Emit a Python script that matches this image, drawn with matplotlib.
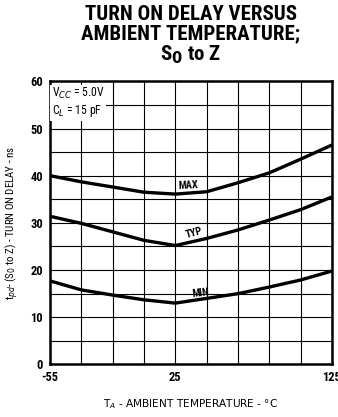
import matplotlib
matplotlib.use("Agg")
import matplotlib.pyplot as plt
from matplotlib import font_manager

temps = [-55, -35, -15, 5, 25, 45, 65, 85, 105, 125]
max_delay = [40.0, 38.7, 37.6, 36.5, 36.1, 36.6, 38.5, 40.6, 43.5, 46.5]
typ_delay = [31.4, 29.9, 28.1, 26.3, 25.2, 26.7, 28.5, 30.6, 32.8, 35.5]
min_delay = [17.7, 15.8, 14.7, 13.7, 13.0, 14.0, 15.0, 16.4, 17.9, 19.8]
x_ticks = [-55, 25, 125]
y_ticks = [0, 10, 20, 30, 40, 50, 60]

names = sorted(set(f.name for f in font_manager.fontManager.ttflist))
cond = ['DejaVu Sans']
for cand in ['Roboto Condensed', 'Archivo Narrow', 'Barlow Condensed', 'Asap Condensed']:
    if cand in names:
        cond = [cand, 'DejaVu Sans']
        break
stretch = 'condensed'

fig = plt.figure(figsize=(3.38, 4.17), dpi=100)
ax = fig.add_axes([0.148, 0.126, 0.834, 0.679])

ax.set_xlim(-55, 125)
ax.set_ylim(0, 60)
ax.set_xticks(range(-55, 126, 20), minor=True)
ax.set_yticks(range(0, 61, 5), minor=True)
ax.set_xticks(x_ticks)
ax.set_yticks(y_ticks)
ax.set_xticklabels([str(t) for t in x_ticks], family=cond, stretch=stretch, fontweight='bold', fontsize=9)
ax.set_yticklabels([str(t) for t in y_ticks], family=cond, stretch=stretch, fontweight='bold', fontsize=9)
ax.grid(True, which='both', color='black', linewidth=0.8)
ax.tick_params(which='both', length=0, pad=5)
for s in ax.spines.values():
    s.set_linewidth(1.8)

for series in (max_delay, typ_delay, min_delay):
    ax.plot(temps, series, color='black', linewidth=2.4, solid_capstyle='butt', zorder=3)

ax.text(33, 36.8, 'MAX', family=cond, stretch=stretch, fontweight='bold', fontsize=7.5, rotation=3, ha='center', va='bottom', zorder=4)
ax.text(37, 26.3, 'TYP', family=cond, stretch=stretch, fontweight='bold', fontsize=7.5, rotation=15, ha='center', va='bottom', zorder=4)
ax.text(41, 13.8, 'MIN', family=cond, stretch=stretch, fontweight='bold', fontsize=7.5, rotation=6, ha='center', va='bottom', zorder=4)

ax.text(-54, 59.0, 'V$_{CC}$ = 5.0V\nC$_L$ = 15 pF', family=cond, stretch=stretch, fontsize=8.5,
        ha='left', va='top', linespacing=1.2, zorder=4,
        bbox=dict(facecolor='white', edgecolor='none', pad=1.2))

ax.set_xlabel('T$_A$ - AMBIENT TEMPERATURE - °C', family=['DejaVu Sans'], fontsize=7.6, labelpad=9)
ax.set_ylabel('t$_{pd}$- (S$_0$ to Z) - TURN ON DELAY - ns', family=cond, stretch=stretch, fontsize=7.8, labelpad=7)

fig.text(0.565, 0.988, 'TURN ON DELAY VERSUS\nAMBIENT TEMPERATURE;\nS$_\\mathbf{0}$ to Z',
         family=cond, stretch=stretch, fontweight='heavy', fontsize=15, ha='center', va='top', linespacing=1.0)

fig.savefig('out.png', dpi=100)
